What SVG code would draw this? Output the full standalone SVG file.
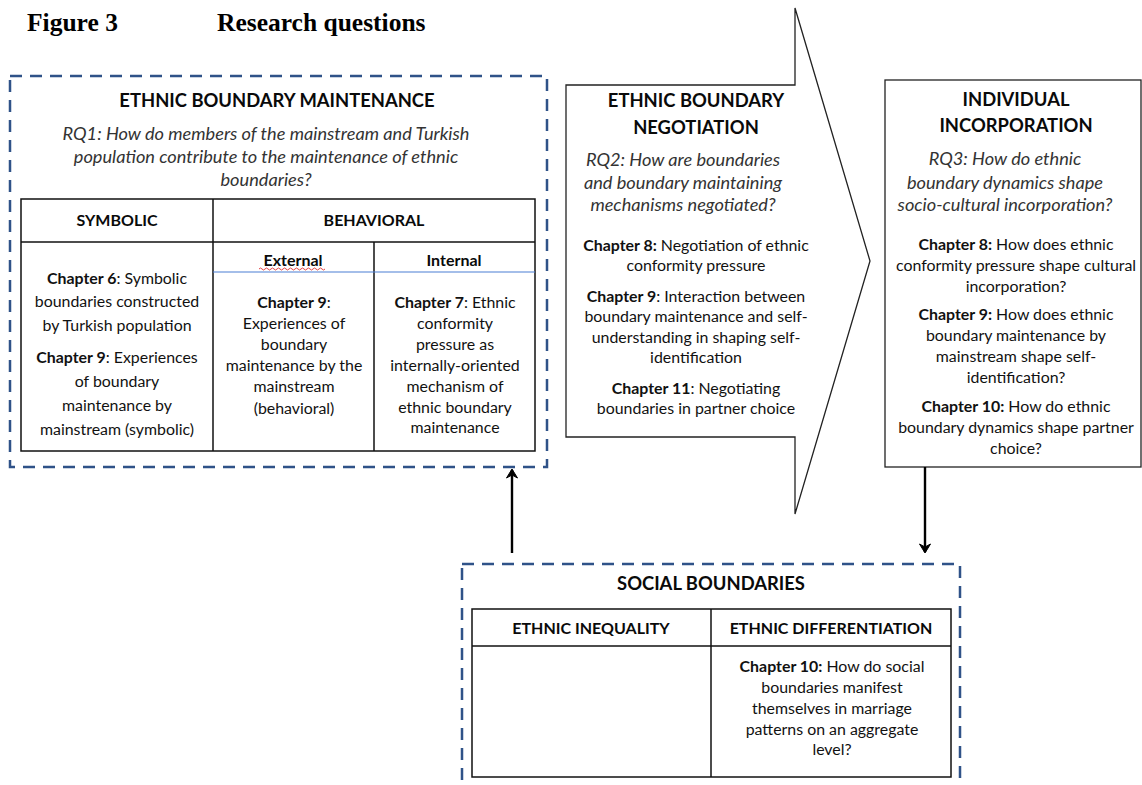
<svg xmlns="http://www.w3.org/2000/svg" width="1142" height="785" viewBox="0 0 1142 785">
  <defs>
    <style>
      .fig { font-family: "Liberation Serif", "Times New Roman", serif; font-weight: bold; font-size: 25.5px; fill: #000; }
      .t { font-family: Lato, "Open Sans", "Liberation Sans", sans-serif; font-size: 15.9px; fill: #111; text-anchor: middle; }
      .b { font-weight: bold; }
      .h { font-family: Lato, "Open Sans", "Liberation Sans", sans-serif; font-size: 18.4px; font-weight: bold; fill: #0a0a0a; text-anchor: middle; }
      .hs { font-family: Lato, "Open Sans", "Liberation Sans", sans-serif; font-size: 16px; font-weight: bold; fill: #0a0a0a; text-anchor: middle; }
      .rq { font-family: Lato, "Open Sans", "Liberation Sans", sans-serif; font-size: 18.2px; font-style: italic; fill: #333; text-anchor: middle; }
      .dash { fill: none; stroke: #2f5288; stroke-width: 2.5; stroke-dasharray: 12 8; }
      .cell { fill: none; stroke: #111; stroke-width: 1.5; }
      .line { stroke: #111; stroke-width: 1.5; }
      .conn { stroke: #000; stroke-width: 2.4; fill: none; }
    </style>
    <marker id="head" markerWidth="14" markerHeight="14" refX="10" refY="7" orient="auto" markerUnits="userSpaceOnUse">
      <path d="M11,7 L2,1.5 L5,7 L2,12.5 Z" fill="#000" stroke="#000" stroke-width="1" stroke-linejoin="miter"/>
    </marker>
  </defs>
  <rect width="1142" height="785" fill="#fff"/>

  <!-- caption -->
  <text class="fig" x="27" y="31">Figure 3</text>
  <text class="fig" x="217" y="31">Research questions</text>

  <!-- ethnic boundary maintenance -->
  <g id="maintenance">
    <rect class="dash" x="10" y="76" width="537" height="391"/>
    <text class="h" x="277" y="107">ETHNIC BOUNDARY  MAINTENANCE</text>
    <text class="rq" x="266" y="140">RQ1: How do members of the mainstream and Turkish</text>
    <text class="rq" x="266" y="163">population contribute to the maintenance of ethnic</text>
    <text class="rq" x="266" y="186">boundaries?</text>
    <rect class="cell" x="21" y="199" width="514" height="252"/>
    <line class="line" x1="21" y1="242" x2="535" y2="242"/>
    <line class="line" x1="213" y1="199" x2="213" y2="451"/>
    <line class="line" x1="374" y1="242" x2="374" y2="451"/>
    <line x1="213" y1="272" x2="535" y2="272" stroke="#4a7fd4" stroke-width="1.2"/>
    <text class="hs" x="117" y="226">SYMBOLIC</text>
    <text class="hs" x="374" y="226">BEHAVIORAL</text>
    <text class="hs" x="293" y="266">External</text>
    <path d="M259,269 q1.5,-2 3,0 t3,0 t3,0 t3,0 t3,0 t3,0 t3,0 t3,0 t3,0 t3,0 t3,0 t3,0 t3,0 t3,0 t3,0 t3,0 t3,0 t3,0 t3,0 t3,0 t3,0 t3,0" fill="none" stroke="#e03030" stroke-width="0.9"/>
    <text class="hs" x="454" y="266">Internal</text>

    <text class="t" x="117" y="284"><tspan class="b">Chapter 6</tspan>: Symbolic</text>
    <text class="t" x="117" y="307">boundaries constructed</text>
    <text class="t" x="117" y="331">by Turkish population</text>
    <text class="t" x="117" y="363"><tspan class="b">Chapter 9</tspan>: Experiences</text>
    <text class="t" x="117" y="387">of boundary</text>
    <text class="t" x="117" y="411">maintenance by</text>
    <text class="t" x="117" y="435">mainstream (symbolic)</text>

    <text class="t" x="294" y="308"><tspan class="b">Chapter 9</tspan>:</text>
    <text class="t" x="294" y="329">Experiences of</text>
    <text class="t" x="294" y="350">boundary</text>
    <text class="t" x="294" y="371">maintenance by the</text>
    <text class="t" x="294" y="392">mainstream</text>
    <text class="t" x="294" y="414">(behavioral)</text>

    <text class="t" x="455" y="308"><tspan class="b">Chapter 7</tspan>: Ethnic</text>
    <text class="t" x="455" y="329">conformity</text>
    <text class="t" x="455" y="350">pressure as</text>
    <text class="t" x="455" y="371">internally-oriented</text>
    <text class="t" x="455" y="392">mechanism of</text>
    <text class="t" x="455" y="413">ethnic boundary</text>
    <text class="t" x="455" y="433">maintenance</text>
  </g>

  <!-- ethnic boundary negotiation (block arrow) -->
  <g id="negotiation">
    <path d="M566,85 L795,85 L795,8 L870,261 L795,514 L795,437 L566,437 Z" fill="#fff" stroke="#222" stroke-width="1.3"/>
    <text class="h" x="696" y="107">ETHNIC BOUNDARY</text>
    <text class="h" x="696" y="134">NEGOTIATION</text>
    <text class="rq" x="683" y="166">RQ2: How are boundaries</text>
    <text class="rq" x="683" y="189">and boundary maintaining</text>
    <text class="rq" x="683" y="211">mechanisms negotiated?</text>
    <text class="t" x="696" y="251"><tspan class="b">Chapter 8:</tspan> Negotiation of ethnic</text>
    <text class="t" x="696" y="271">conformity pressure</text>
    <text class="t" x="696" y="302"><tspan class="b">Chapter 9</tspan>: Interaction between</text>
    <text class="t" x="696" y="322">boundary maintenance and self-</text>
    <text class="t" x="696" y="343">understanding in shaping self-</text>
    <text class="t" x="696" y="363">identification</text>
    <text class="t" x="696" y="394"><tspan class="b">Chapter 11</tspan>: Negotiating</text>
    <text class="t" x="696" y="414">boundaries in partner choice</text>
  </g>

  <!-- individual incorporation -->
  <g id="incorporation">
    <rect x="885" y="80" width="256" height="387" fill="#fff" stroke="#222" stroke-width="1.3"/>
    <text class="h" x="1016" y="106">INDIVIDUAL</text>
    <text class="h" x="1016" y="132">INCORPORATION</text>
    <text class="rq" x="1005" y="165">RQ3: How do ethnic</text>
    <text class="rq" x="1005" y="189">boundary dynamics shape</text>
    <text class="rq" x="1005" y="211">socio-cultural incorporation?</text>
    <text class="t" x="1016" y="250"><tspan class="b">Chapter 8:</tspan> How does ethnic</text>
    <text class="t" x="1016" y="271">conformity pressure shape cultural</text>
    <text class="t" x="1016" y="292">incorporation?</text>
    <text class="t" x="1016" y="320"><tspan class="b">Chapter 9:</tspan> How does ethnic</text>
    <text class="t" x="1016" y="341">boundary maintenance by</text>
    <text class="t" x="1016" y="362">mainstream shape self-</text>
    <text class="t" x="1016" y="383">identification?</text>
    <text class="t" x="1016" y="412"><tspan class="b">Chapter 10:</tspan> How do ethnic</text>
    <text class="t" x="1016" y="433">boundary dynamics shape partner</text>
    <text class="t" x="1016" y="454">choice?</text>
  </g>

  <!-- social boundaries -->
  <g id="social">
    <rect class="dash" x="462" y="564" width="498" height="240"/>
    <text class="h" x="711" y="590">SOCIAL BOUNDARIES</text>
    <rect class="cell" x="472" y="609" width="479" height="168"/>
    <line class="line" x1="472" y1="646" x2="951" y2="646"/>
    <line class="line" x1="711" y1="609" x2="711" y2="777"/>
    <text class="hs" x="591" y="634">ETHNIC INEQUALITY</text>
    <text class="hs" x="831" y="634">ETHNIC DIFFERENTIATION</text>
    <text class="t" x="832" y="672"><tspan class="b">Chapter 10:</tspan> How do social</text>
    <text class="t" x="832" y="693">boundaries manifest</text>
    <text class="t" x="832" y="714">themselves in marriage</text>
    <text class="t" x="832" y="735">patterns on an aggregate</text>
    <text class="t" x="832" y="755">level?</text>
  </g>

  <!-- connectors -->
  <g id="connectors">
    <line class="conn" x1="512" y1="553" x2="512" y2="470" marker-end="url(#head)"/>
    <line class="conn" x1="925" y1="467" x2="925" y2="552" marker-end="url(#head)"/>
  </g>
</svg>
